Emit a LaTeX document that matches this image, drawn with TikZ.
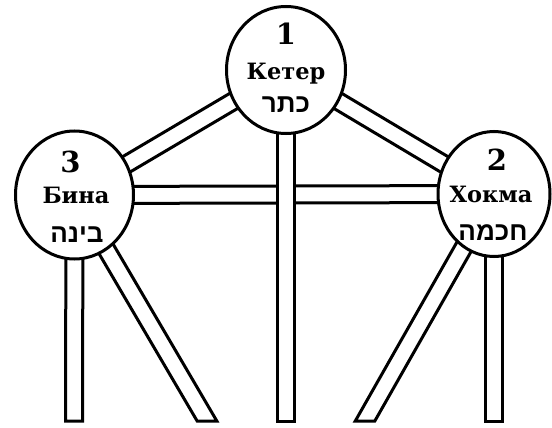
\documentclass[tikz,border=0pt]{standalone}
\usepackage{fontspec}
\setmainfont{DejaVu Serif}
\newfontfamily\hebfont[Script=Hebrew]{Liberation Sans}
\usetikzlibrary{calc,shapes.geometric,backgrounds}

\def\barhw{8.5pt}
% bar between two sefirot
\newcommand{\pathbar}[2]{%
  \coordinate (b1) at ($(#1.center)!\barhw!90:(#2.center)$);
  \coordinate (b2) at ($(#2.center)!\barhw!-90:(#1.center)$);
  \coordinate (b3) at ($(#2.center)!\barhw!90:(#1.center)$);
  \coordinate (b4) at ($(#1.center)!\barhw!-90:(#2.center)$);
  \draw[bar] (b1) -- (b2) -- (b3) -- (b4) -- cycle;}
% bar going down, cut flat at the bottom
\newcommand{\footbar}[2]{%
  \coordinate (b1) at ($(#1.center)!\barhw!90:(#2.center)$);
  \coordinate (b2) at ($(#2.center)!\barhw!-90:(#1.center)$);
  \coordinate (b3) at ($(#2.center)!\barhw!90:(#1.center)$);
  \coordinate (b4) at ($(#1.center)!\barhw!-90:(#2.center)$);
  \coordinate (bh) at ($(#2.center)+(10,0)$);
  \draw[bar] (b1) -- (intersection of b1--b2 and #2--bh)
    -- (intersection of b4--b3 and #2--bh) -- (b4) -- cycle;}

\tikzset{
  sefira/.style={ellipse, draw, line width=3pt, fill=white,
    minimum width=119pt, minimum height=127pt, inner sep=0pt},
  bar/.style={draw, line width=3pt, fill=white, line join=miter},
  num/.style={anchor=base, font=\fontsize{29}{30}\selectfont\bfseries},
  rname/.style={anchor=base, font=\fontsize{22.5}{24}\selectfont\bfseries},
  heb/.style={anchor=base, font=\hebfont\fontsize{26}{28}\selectfont\bfseries},
}

\begin{document}
\begin{tikzpicture}[x=1pt,y=-1pt]
  \useasboundingbox (0,0) rectangle (552,428);

  % Sefirot
  \node[sefira] (keter) at (286,70) {};
  \node[sefira, minimum width=118pt, minimum height=128pt] (bina) at (74.5,195) {};
  \node[sefira, minimum width=112pt, minimum height=125pt] (hokhma) at (494,194) {};

  % Texts
  \node[num] (keter-num) at ($(keter)+(0,-25)$) {1};
  \node[rname] (keter-ru) at ($(keter)+(0,10)$) {Кетер};
  \node[heb] (keter-he) at ($(keter)+(0,43)$) {כתר};

  \node[num] (bina-num) at ($(bina)+(-4,-23)$) {3};
  \node[rname] (bina-ru) at ($(bina)+(1.5,8)$) {Бина};
  \node[heb] (bina-he) at ($(bina)+(2.5,47)$) {בינה};

  \node[num] (hokhma-num) at ($(hokhma)+(3,-24)$) {2};
  \node[rname] (hokhma-ru) at ($(hokhma)+(-3,8)$) {Хокма};
  \node[heb] (hokhma-he) at ($(hokhma)+(-1,46)$) {חכמה};

  % Free ends of the lower paths
  \coordinate (keter-foot) at (286,421);
  \coordinate (bina-foot) at (74,421);
  \coordinate (bina-slant) at (207,421);
  \coordinate (hokhma-foot) at (494,421);
  \coordinate (hokhma-slant) at (365,421);

  % Paths
  \begin{scope}[on background layer]
    \pathbar{keter}{bina}
    \pathbar{keter}{hokhma}
    \pathbar{bina}{hokhma}
    \footbar{keter}{keter-foot}
    \footbar{bina}{bina-foot}
    \footbar{bina}{bina-slant}
    \footbar{hokhma}{hokhma-foot}
    \footbar{hokhma}{hokhma-slant}
  \end{scope}
\end{tikzpicture}
\end{document}
